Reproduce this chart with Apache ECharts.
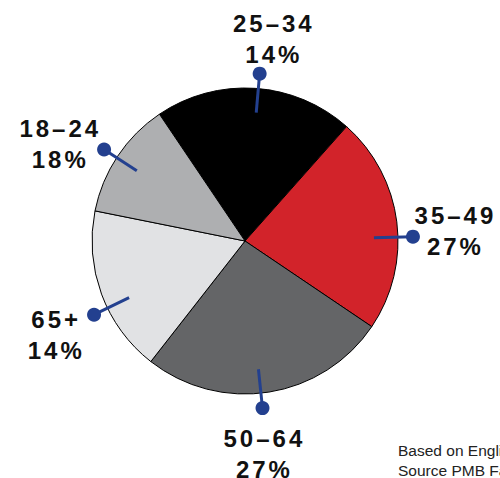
<!DOCTYPE html>
<html><head><meta charset="utf-8">
<script src="https://cdn.jsdelivr.net/npm/echarts@6/dist/echarts.min.js"></script>
<style>
html,body{margin:0;padding:0;background:#fff;}
#chart{width:500px;height:478px;}
#chart svg text[style*="bold"]{letter-spacing:3px;}
</style></head><body><div id="chart"></div>
<script>
// ---------- data ----------
const categories    = ['25–34', '35–49', '50–64', '65+', '18–24'];
const sliceShare    = [21.0, 22.9, 26.1, 17.6, 12.4];   // share of the circle each slice covers (%)
const labelPercents = ['14%', '27%', '27%', '14%', '18%'];
const footnoteLines = ['Based on English', 'Source PMB Fall'];

// ---------- layout / style ----------
const sliceColors = ['#000000', '#d2232a', '#646567', '#e1e2e4', '#aeafb1'];
const CENTER = [245, 241];
const R = 153;
const START = -34;                 // first slice edge, degrees clockwise from 12 o'clock
const leaderNudge = [1.2, 5.7, 3, -5.7, -0.7];
const leaderInner = 0.843, leaderOuter = 1.098;     // in units of pie radius
const labelOffset = [[14.2, -35], [42.5, -6], [1.9, 45.5], [-37.8, 20.3], [-43.8, -5.8]];
const BLUE = '#23408f';

const total = sliceShare.reduce((a, b) => a + b, 0);
let cum = 0;
const midAngles = sliceShare.map(v => { const m = START + 360 * (cum + v / 2) / total; cum += v; return (m + 360) % 360; });

const chart = echarts.init(document.getElementById('chart'), null, {renderer: 'svg', width: 500, height: 478});

const leaderSeries = categories.map((c, i) => {
  const ang = midAngles[i] + leaderNudge[i];
  return {
    type: 'line', coordinateSystem: 'polar', polarIndex: 0, silent: true, z: 5,
    lineStyle: {color: BLUE, width: 3},
    itemStyle: {color: BLUE},
    emphasis: {disabled: true},
    data: [
      {value: [leaderInner, ang], symbol: 'none'},
      {value: [leaderOuter, ang], symbol: 'circle', symbolSize: 14,
       label: {show: true, position: 'inside', offset: labelOffset[i],
               formatter: c + '\n' + labelPercents[i],
               fontFamily: 'Liberation Sans', fontWeight: 'bold', fontSize: 24, lineHeight: 31,
               color: '#111', align: 'center', verticalAlign: 'middle'}}
    ]
  };
});

chart.setOption({
  animation: false,
  polar: {center: CENTER, radius: R * 1.2},
  angleAxis: {type: 'value', min: 0, max: 360, startAngle: 90, clockwise: true, show: false,
              axisLine: {show: false}, splitLine: {show: false}, axisTick: {show: false}, axisLabel: {show: false}},
  radiusAxis: {type: 'value', min: 0, max: 1.2, show: false,
               axisLine: {show: false}, splitLine: {show: false}, axisTick: {show: false}, axisLabel: {show: false}},
  series: [
    {
      type: 'pie', center: CENTER, radius: R, startAngle: 90 - START, clockwise: true,
      silent: true, z: 1,
      label: {show: false}, labelLine: {show: false},
      itemStyle: {borderColor: '#000', borderWidth: 1},
      emphasis: {disabled: true},
      data: categories.map((c, i) => ({name: c, value: sliceShare[i], itemStyle: {color: sliceColors[i]}}))
    },
    ...leaderSeries
  ],
  graphic: [{
    type: 'text', left: 398, top: 440, silent: true,
    style: {text: footnoteLines.join('\n'), font: '15.5px "Liberation Sans"', fill: '#222', lineHeight: 20}
  }]
});
</script></body></html>
